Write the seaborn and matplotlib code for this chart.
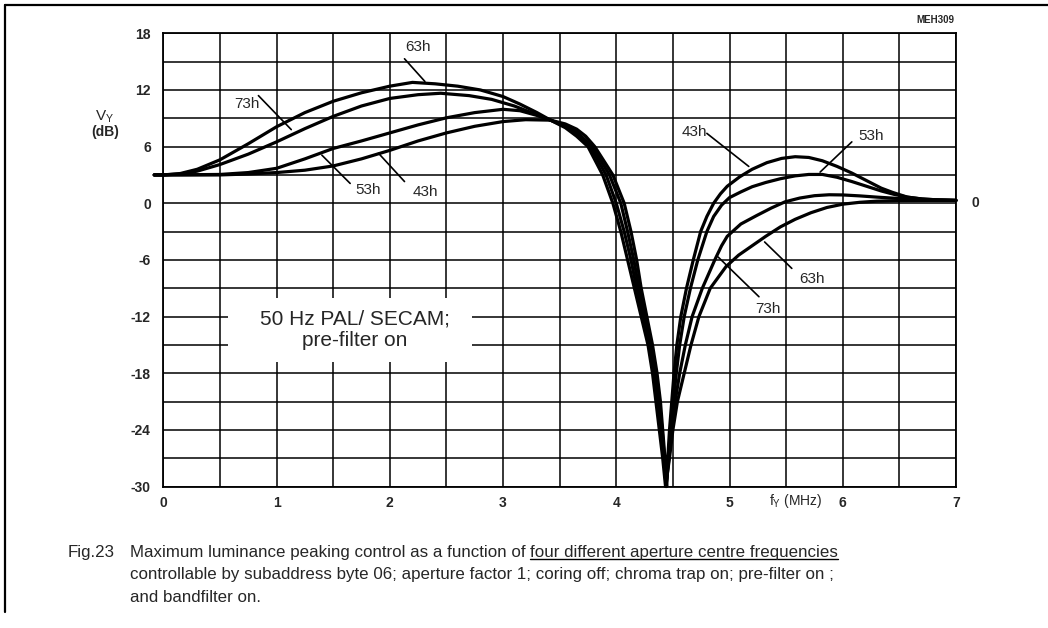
import numpy as np
import pandas as pd
from matplotlib import pyplot as plt
from matplotlib.patches import Rectangle
from matplotlib.lines import Line2D
import seaborn as sns

# aperture centre frequency settings (subaddress byte 06)
settings = ["43h", "53h", "63h", "73h"]

freq_43h = [-0.08, 0, 0.5, 0.75, 1.0, 1.25, 1.5, 1.75, 2.0, 2.25, 2.5, 2.75, 3.0, 3.2, 3.42, 3.55, 3.65,
            3.73, 3.81, 3.97, 4.07, 4.13, 4.18, 4.22, 4.27, 4.32, 4.36, 4.39, 4.41, 4.43, 4.445,
            4.455, 4.47, 4.49, 4.51, 4.535, 4.57, 4.62, 4.68, 4.745, 4.80, 4.86, 4.92, 4.98, 5.09, 5.2,
            5.33, 5.46, 5.58, 5.7, 5.82, 5.95, 6.08, 6.21, 6.34, 6.44, 6.57, 6.7, 6.85, 7.0]
gain_43h = [3.0, 3.0, 3.0, 3.1, 3.25, 3.5, 3.95, 4.7, 5.6, 6.6, 7.45, 8.15, 8.65, 8.85, 8.8, 8.4, 7.85,
            7.1, 6.0, 3.0, 0, -3, -6, -9, -12, -15, -18, -21, -24, -27, -30,
            -27, -24, -21, -18, -15, -12, -9, -6, -3, -1.4, 0, 1.0, 1.8, 2.8, 3.6,
            4.3, 4.75, 4.93, 4.85, 4.5, 3.9, 3.2, 2.4, 1.6, 1.15, 0.65, 0.45, 0.35, 0.3]

freq_53h = [-0.08, 0, 0.5, 0.75, 1.0, 1.25, 1.5, 1.75, 2.0, 2.25, 2.5, 2.75, 3.0, 3.15, 3.3, 3.42, 3.55,
            3.65, 3.79, 3.94, 4.04, 4.10, 4.155, 4.20, 4.255, 4.31, 4.35, 4.38, 4.405, 4.425, 4.44,
            4.46, 4.48, 4.505, 4.53, 4.56, 4.60, 4.655, 4.72, 4.80, 4.86, 4.93, 5.0, 5.1, 5.2, 5.32,
            5.45, 5.58, 5.7, 5.82, 5.95, 6.08, 6.21, 6.34, 6.45, 6.57, 6.7, 6.85, 7.0]
gain_53h = [3.0, 3.0, 3.05, 3.25, 3.7, 4.7, 5.8, 6.6, 7.45, 8.3, 9.05, 9.6, 9.95, 9.8, 9.3, 8.8, 8.2,
            7.55, 6.0, 3.0, 0, -3, -6, -9, -12, -15, -18, -21, -24, -27, -30,
            -27, -24, -21, -18, -15, -12, -9, -6, -3, -1.4, -0.2, 0.6, 1.2, 1.75, 2.2,
            2.6, 2.9, 3.05, 3.05, 2.75, 2.3, 1.8, 1.3, 0.95, 0.65, 0.45, 0.35, 0.3]

freq_63h = [-0.08, 0, 0.15, 0.3, 0.5, 0.75, 1.0, 1.25, 1.5, 1.75, 2.0, 2.2, 2.4, 2.6, 2.8, 3.0, 3.15,
            3.3, 3.42, 3.55, 3.65, 3.75, 3.88, 3.97, 4.04, 4.10, 4.16, 4.22, 4.28, 4.32, 4.35,
            4.38, 4.41, 4.435, 4.47, 4.50, 4.54, 4.60, 4.66, 4.73, 4.83, 4.97, 5.08, 5.2, 5.32,
            5.45, 5.58, 5.72, 5.86, 6.0, 6.15, 6.3, 6.5, 6.75, 7.0]
gain_63h = [3.0, 3.0, 3.15, 3.6, 4.6, 6.3, 8.1, 9.6, 10.8, 11.7, 12.4, 12.8, 12.65, 12.4, 12.0, 11.3, 10.5,
            9.6, 8.8, 8.0, 7.1, 6.0, 3.0, 0, -3, -6, -9, -12, -15, -18, -21,
            -24, -27, -30, -27, -24, -21, -18, -15, -12, -9, -6.7, -5.5, -4.5, -3.5,
            -2.5, -1.7, -1.0, -0.45, -0.1, 0.1, 0.22, 0.28, 0.3, 0.3]

freq_73h = [-0.08, 0, 0.15, 0.3, 0.5, 0.75, 1.0, 1.25, 1.5, 1.75, 2.0, 2.25, 2.45, 2.7, 2.9, 3.1, 3.25,
            3.42, 3.55, 3.65, 3.77, 3.91, 4.0, 4.07, 4.13, 4.18, 4.24, 4.30, 4.34, 4.37, 4.395,
            4.42, 4.44, 4.465, 4.49, 4.52, 4.56, 4.61, 4.67, 4.76, 4.87, 4.93, 4.98, 5.1, 5.24,
            5.37, 5.49, 5.62, 5.75, 5.88, 6.0, 6.15, 6.3, 6.5, 6.75, 7.0]
gain_73h = [3.0, 3.0, 3.1, 3.4, 4.1, 5.2, 6.5, 7.9, 9.2, 10.3, 11.1, 11.5, 11.65, 11.4, 11.0, 10.3, 9.6,
            8.8, 8.1, 7.35, 6.0, 3.0, 0, -3, -6, -9, -12, -15, -18, -21, -24,
            -27, -30, -27, -24, -21, -18, -15, -12, -9, -6, -4.5, -3.5, -2.2, -1.3,
            -0.5, 0.15, 0.55, 0.8, 0.9, 0.88, 0.78, 0.65, 0.5, 0.38, 0.3]

x_ticks = [0, 1, 2, 3, 4, 5, 6, 7]
y_ticks = [-30, -24, -18, -12, -6, 0, 6, 12, 18]

# curve labels: (text, text pos, leader start, leader end) in data units
curve_labels = [
    ("63h", (2.25, 16.5), (2.13, 15.3), (2.31, 12.9)),
    ("73h", (0.74, 10.5), (0.84, 11.4), (1.13, 7.8)),
    ("53h", (1.81, 1.4), (1.40, 5.1), (1.65, 2.1)),
    ("43h", (2.31, 1.2), (1.90, 5.3), (2.13, 2.3)),
    ("43h", (4.69, 7.55), (4.80, 7.4), (5.17, 3.9)),
    ("53h", (6.25, 7.1), (6.08, 6.5), (5.80, 3.3)),
    ("63h", (5.73, -8.0), (5.31, -4.1), (5.55, -6.9)),
    ("73h", (5.34, -11.2), (4.90, -5.7), (5.26, -9.9)),
]

df = pd.concat([
    pd.DataFrame({"f": freq_43h, "V": gain_43h, "setting": "43h"}),
    pd.DataFrame({"f": freq_53h, "V": gain_53h, "setting": "53h"}),
    pd.DataFrame({"f": freq_63h, "V": gain_63h, "setting": "63h"}),
    pd.DataFrame({"f": freq_73h, "V": gain_73h, "setting": "73h"}),
], ignore_index=True)

sns.set_style("white")
plt.rcParams["font.family"] = ["Liberation Sans", "DejaVu Sans"]
plt.rcParams["mathtext.fontset"] = "custom"
plt.rcParams["mathtext.rm"] = "Liberation Sans"

W, H = 1048, 628
fig = plt.figure(figsize=(W / 100, H / 100), dpi=100)
fig.patch.set_facecolor("white")
ax = fig.add_axes([163.3 / W, 1 - 486.5 / H, (956 - 163.3) / W, (486.5 - 33.3) / H])


def px(x, y):
    return x / W, 1 - y / H


sns.lineplot(data=df, x="f", y="V", units="setting", estimator=None, sort=False,
             color="black", lw=2.3, ax=ax, legend=False, zorder=4, clip_on=False)
for ln in ax.get_lines():
    ln.set_solid_joinstyle("round")

ax.set_xlim(0, 7)
ax.set_ylim(-30, 18)
ax.set_xticks(x_ticks)
ax.set_xticks(np.arange(0.5, 7, 1), minor=True)
ax.set_yticks(y_ticks)
ax.set_yticks(np.arange(-27, 18, 6), minor=True)
ax.set_xticklabels([str(v) for v in x_ticks], fontsize=10, fontweight="bold")
ax.set_yticklabels([str(v) for v in y_ticks], fontsize=10, fontweight="bold")
ax.tick_params(which="both", length=0)
ax.tick_params(axis="x", pad=7)
ax.tick_params(axis="y", pad=9)
ax.grid(which="both", color="black", lw=1.1)
ax.set_axisbelow(True)
for s in ax.spines.values():
    s.set_color("black")
    s.set_linewidth(1.3)
ax.set_xlabel("")
ax.set_ylabel("")

# boxed condition note
ax.add_patch(Rectangle((0.57, -16.8), 2.16, 6.8, facecolor="white", edgecolor="none", zorder=2))
ax.text(1.69, -13.4, "50 Hz PAL/ SECAM;\npre-filter on", ha="center", va="center",
        fontsize=15, linespacing=1.2, zorder=3)

for text, tpos, p0, p1 in curve_labels:
    ax.text(tpos[0], tpos[1], text, ha="center", va="center", fontsize=11, zorder=5)
    ax.plot([p0[0], p1[0]], [p0[1], p1[1]], color="black", lw=1.2, zorder=5)

ax.text(1.02, 0, "0", transform=ax.get_yaxis_transform(), ha="left", va="center",
        fontsize=10, fontweight="bold")

fig.text(*px(105, 117), r"$\mathregular{V_Y}$", ha="center", va="center", fontsize=11)
fig.text(*px(105, 132), "(dB)", ha="center", va="center", fontsize=10, fontweight="bold")
fig.text(*px(796, 501), r"$\mathregular{f_Y}$ (MHz)", ha="center", va="center", fontsize=10)
fig.text(*px(954, 20), "MEH309", ha="right", va="center", fontsize=7, fontweight="bold")

# frame around the figure
fig.add_artist(Line2D([5 / W, 1], [1 - 5 / H] * 2, color="black", lw=1.6))
fig.add_artist(Line2D([5 / W] * 2, [1 - 5 / H, 1 - 612 / H], color="black", lw=1.6))

# caption
fig.canvas.draw()
renderer = fig.canvas.get_renderer()
cap_size = 12.2
fig.text(*px(68, 553), "Fig.23", ha="left", va="center", fontsize=cap_size)
t_a = fig.text(*px(130, 553), "Maximum luminance peaking control as a function of ",
               ha="left", va="center", fontsize=cap_size)
bb_a = t_a.get_window_extent(renderer)
t_b = fig.text(bb_a.x1 / W, 1 - 553 / H, "four different aperture centre frequencies",
               ha="left", va="center", fontsize=cap_size)
bb_b = t_b.get_window_extent(renderer)
fig.add_artist(Line2D([bb_b.x0 / W, bb_b.x1 / W], [(bb_b.y0 + 2) / H] * 2, color="black", lw=1.0))
fig.text(*px(130, 575), "controllable by subaddress byte 06; aperture factor 1; coring off; "
         "chroma trap on; pre-filter on ;", ha="left", va="center", fontsize=cap_size)
fig.text(*px(130, 597), "and bandfilter on.", ha="left", va="center", fontsize=cap_size)

fig.savefig("out.png", dpi=100)
